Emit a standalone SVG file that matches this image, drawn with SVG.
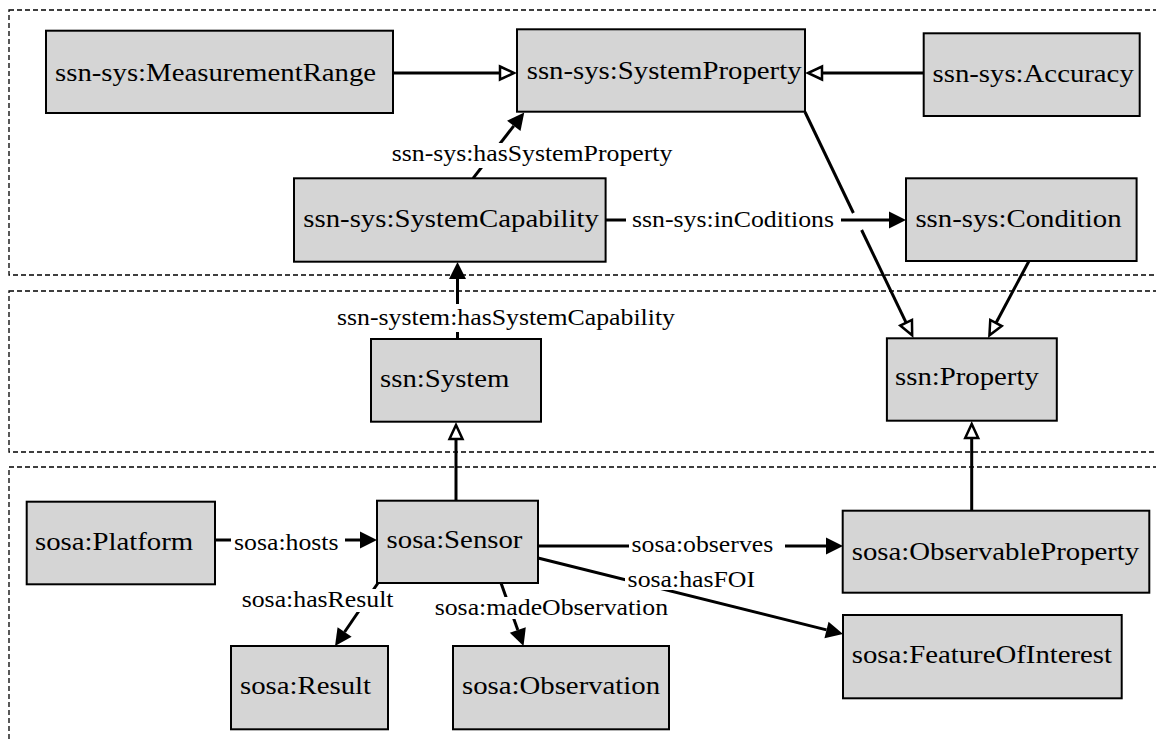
<svg xmlns="http://www.w3.org/2000/svg" width="1156" height="740" viewBox="0 0 1156 740">
  <style>
    .group { fill: none; stroke: #000; stroke-width: 1.3; stroke-dasharray: 5 3; }
    .node rect { fill: #d5d5d5; stroke: #000; stroke-width: 2; }
    .node text { font-family: "Liberation Serif", "Times New Roman", serif; font-size: 26px; fill: #000; }
    .edge { fill: none; stroke: #000; stroke-width: 3; }
    .label rect { fill: #fff; stroke: none; }
    .label text { font-family: "Liberation Serif", "Times New Roman", serif; font-size: 23.3px; fill: #000; }
  </style>
  <defs>
    <!-- solid arrowhead: reference point sits at the base, tip points forward -->
    <marker id="filled" markerUnits="userSpaceOnUse" markerWidth="20" markerHeight="20" refX="0" refY="0" orient="auto" overflow="visible">
      <path d="M0,-8.5 L17,0 L0,8.5 z" fill="#000"/>
    </marker>
    <!-- open triangle for subclass links -->
    <marker id="hollow" markerUnits="userSpaceOnUse" markerWidth="20" markerHeight="20" refX="0" refY="0" orient="auto" overflow="visible">
      <path d="M0,-6.5 L14,0 L0,6.5 z" fill="#fff" stroke="#000" stroke-width="2.5"/>
    </marker>
  </defs>

  <rect width="1156" height="740" fill="#fff"/>

  <!-- layer frames -->
  <g id="layers">
    <rect class="group" x="9" y="10" width="1160" height="265"/>
    <rect class="group" x="9" y="291" width="1160" height="161"/>
    <rect class="group" x="9" y="467" width="1160" height="300"/>
  </g>

  <!-- connectors; all text is widened slightly (scale 1.107 horizontally) -->
  <g id="connectors">
    <path class="edge" d="M393,73 H500" marker-end="url(#hollow)"/>
    <path class="edge" d="M924,73 H822" marker-end="url(#hollow)"/>
    <path class="edge" d="M473,178.3 L513.8,125.9" marker-end="url(#filled)"/>
    <path class="edge" d="M805,112 L853.4,213"/>
    <path class="edge" d="M861.6,230 L906.1,322.7" marker-end="url(#hollow)"/>
    <path class="edge" d="M605.6,220 H889" marker-end="url(#filled)"/>
    <path class="edge" d="M1029,261 L996,323" marker-end="url(#hollow)"/>
    <path class="edge" d="M457.5,339 V279" marker-end="url(#filled)"/>
    <path class="edge" d="M456,500.7 V439" marker-end="url(#hollow)"/>
    <path class="edge" d="M971.7,510.7 V438" marker-end="url(#hollow)"/>
    <path class="edge" d="M215,540 H360" marker-end="url(#filled)"/>
    <path class="edge" d="M538,546 H826" marker-end="url(#filled)"/>
    <path class="edge" d="M538,558 L826.5,629.9" marker-end="url(#filled)"/>
    <path class="edge" d="M378,583 L344.6,632" marker-end="url(#filled)"/>
    <path class="edge" d="M501,583 L517.8,630" marker-end="url(#filled)"/>

    <!-- edge labels -->
    <g class="label">
      <rect x="389" y="143" width="289" height="25"/>
      <text transform="translate(391.7,161) scale(1.107,1)">ssn-sys:hasSystemProperty</text>
    </g>
    <g class="label">
      <rect x="626" y="208" width="215" height="24"/>
      <text transform="translate(632,227) scale(1.107,1)">ssn-sys:inCoditions</text>
    </g>
    <g class="label">
      <rect x="334" y="304" width="348" height="28"/>
      <text transform="translate(337,325) scale(1.107,1)">ssn-system:hasSystemCapability</text>
    </g>
    <g class="label">
      <rect x="231" y="528" width="114" height="25"/>
      <text transform="translate(234,550) scale(1.107,1)">sosa:hosts</text>
    </g>
    <g class="label">
      <rect x="629" y="534" width="156" height="24"/>
      <text transform="translate(631.5,552) scale(1.107,1)">sosa:observes</text>
    </g>
    <g class="label">
      <rect x="625" y="567" width="135" height="23"/>
      <text transform="translate(627.6,587) scale(1.107,1)">sosa:hasFOI</text>
    </g>
    <g class="label">
      <rect x="239" y="589" width="158" height="23"/>
      <text transform="translate(241.7,607) scale(1.107,1)">sosa:hasResult</text>
    </g>
    <g class="label">
      <rect x="432" y="597" width="244" height="22"/>
      <text transform="translate(434.7,615) scale(1.107,1)">sosa:madeObservation</text>
    </g>
  </g>

  <!-- nodes -->
  <g id="MeasurementRange" class="node">
    <rect x="46" y="30.7" width="347" height="82.3"/>
    <text transform="translate(55,81) scale(1.107,1)">ssn-sys:MeasurementRange</text>
  </g>
  <g id="SystemProperty" class="node">
    <rect x="517" y="29.3" width="288" height="82.4"/>
    <text transform="translate(526.7,78.5) scale(1.107,1)">ssn-sys:SystemProperty</text>
  </g>
  <g id="Accuracy" class="node">
    <rect x="923.7" y="33.3" width="216" height="82.7"/>
    <text transform="translate(932.5,82) scale(1.107,1)">ssn-sys:Accuracy</text>
  </g>
  <g id="SystemCapability" class="node">
    <rect x="294" y="178.3" width="311.6" height="83.4"/>
    <text transform="translate(303.3,226.5) scale(1.107,1)">ssn-sys:SystemCapability</text>
  </g>
  <g id="Condition" class="node">
    <rect x="906" y="178.3" width="230.6" height="82.7"/>
    <text transform="translate(915.4,227) scale(1.107,1)">ssn-sys:Condition</text>
  </g>
  <g id="System" class="node">
    <rect x="371" y="339" width="170" height="82.7"/>
    <text transform="translate(380,387) scale(1.107,1)">ssn:System</text>
  </g>
  <g id="Property" class="node">
    <rect x="886.9" y="338.3" width="169.9" height="82.4"/>
    <text transform="translate(895,385) scale(1.107,1)">ssn:Property</text>
  </g>
  <g id="Platform" class="node">
    <rect x="26.7" y="501.7" width="188.3" height="82.6"/>
    <text transform="translate(35,550) scale(1.107,1)">sosa:Platform</text>
  </g>
  <g id="Sensor" class="node">
    <rect x="377" y="500.7" width="161" height="82.3"/>
    <text transform="translate(386.6,548) scale(1.107,1)">sosa:Sensor</text>
  </g>
  <g id="ObservableProperty" class="node">
    <rect x="842.7" y="510.7" width="306.6" height="82"/>
    <text transform="translate(851.7,560) scale(1.107,1)">sosa:ObservableProperty</text>
  </g>
  <g id="FeatureOfInterest" class="node">
    <rect x="843" y="615" width="278.7" height="83.3"/>
    <text transform="translate(851.7,663) scale(1.107,1)">sosa:FeatureOfInterest</text>
  </g>
  <g id="Result" class="node">
    <rect x="231" y="646" width="157" height="83.3"/>
    <text transform="translate(240,694) scale(1.107,1)">sosa:Result</text>
  </g>
  <g id="Observation" class="node">
    <rect x="453" y="646" width="216" height="83.3"/>
    <text transform="translate(462,694) scale(1.107,1)">sosa:Observation</text>
  </g>
</svg>
